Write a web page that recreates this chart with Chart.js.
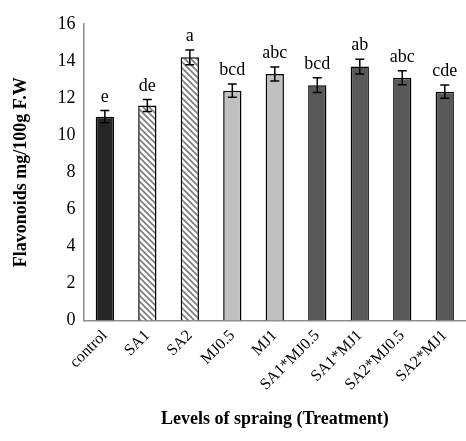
<!DOCTYPE html>
<html>
<head>
<meta charset="utf-8">
<script src="https://cdn.jsdelivr.net/npm/chart.js@4.4.1/dist/chart.umd.min.js"></script>
<style>
  body{margin:0;background:#fff;}
  #wrap{width:466px;height:441px;}
</style>
</head>
<body>
<div id="wrap"><canvas id="flavonoids-chart" width="466" height="441"></canvas></div>
<script>
const treatments = ["control","SA1","SA2","MJ0.5","MJ1","SA1*MJ0.5","SA1*MJ1","SA2*MJ0.5","SA2*MJ1"];
const flavonoids = [11.0, 11.6, 14.2, 12.4, 13.3, 12.7, 13.7, 13.1, 12.35];
const errors = [0.33, 0.32, 0.4, 0.36, 0.38, 0.4, 0.4, 0.38, 0.36];
const letters = ["e","de","a","bcd","abc","bcd","ab","abc","cde"];
const yTicks = [0,2,4,6,8,10,12,14,16];

//hatch pattern for the SA bars
const makeHatch = () =>{
    const c = document.createElement("canvas");
    c.width = 6; c.height = 6;
    const g = c.getContext("2d");
    g.fillStyle = "#ffffff";
    g.fillRect(0,0,6,6);
    g.strokeStyle = "#7a7a7a";
    g.lineWidth = 1.6;
    g.beginPath();
    g.moveTo(-1,-1); g.lineTo(7,7);
    g.moveTo(-1,5); g.lineTo(1,7);
    g.moveTo(5,-1); g.lineTo(7,1);
    g.stroke();
    return g.createPattern(c,"repeat");
}
const hatch = makeHatch();
const barColors = ["#262626", hatch, hatch, "#c0c0c0", "#c0c0c0", "#595959", "#595959", "#595959", "#595959"];

//error bars and letters drawn on top of the bars
const errorBarPlugin = {
    id: "errorBars",
    afterDatasetsDraw(chart){
        const ctx = chart.ctx;
        const meta = chart.getDatasetMeta(0);
        const y = chart.scales.y;
        ctx.save();
        ctx.strokeStyle = "#000";
        ctx.lineWidth = 1.5;
        ctx.fillStyle = "#000";
        ctx.font = "18px 'Liberation Serif', 'Times New Roman', serif";
        ctx.textAlign = "center";
        ctx.textBaseline = "alphabetic";
        meta.data.forEach((bar, i) =>{
            const x = bar.x;
            const top = y.getPixelForValue(flavonoids[i] + errors[i]);
            const bot = y.getPixelForValue(flavonoids[i] - errors[i]);
            ctx.beginPath();
            ctx.moveTo(x, top); ctx.lineTo(x, bot);
            ctx.moveTo(x-4.5, top); ctx.lineTo(x+4.5, top);
            ctx.moveTo(x-4.5, bot); ctx.lineTo(x+4.5, bot);
            ctx.stroke();
            ctx.fillText(letters[i], x, top - 9);
        })
        ctx.restore();
    }
}

new Chart("flavonoids-chart",{
    type: "bar",
    data:{
        labels: treatments,
        datasets:[{
            data: flavonoids,
            backgroundColor: barColors,
            borderColor: "#000",
            borderWidth: 1.5,
            barPercentage: 0.43,
            categoryPercentage: 1
        }]
    },
    options:{
        responsive: false,
        animation: false,
        layout:{padding:{top:24, right:-4, left:7, bottom:7}},
        plugins:{
            legend:{display:false},
            tooltip:{enabled:false}
        },
        scales:{
            x:{
                grid:{display:false, drawTicks:false},
                border:{color:"#8c8c8c", width:1.5},
                ticks:{
                    color:"#000",
                    minRotation:45, maxRotation:45,
                    padding:6,
                    font:{family:"'Liberation Serif', serif", size:16}
                },
                title:{
                    display:true,
                    text:"Levels of spraing (Treatment)",
                    color:"#000",
                    padding:{top:8},
                    font:{family:"'Liberation Serif', serif", size:18, weight:"bold"}
                }
            },
            y:{
                min:0, max:16,
                afterBuildTicks: axis =>{ axis.ticks = yTicks.map(v => ({value:v})); },
                grid:{display:false, drawOnChartArea:false, drawTicks:true, tickLength:5, color:"#8c8c8c"},
                border:{color:"#8c8c8c", width:1.5},
                ticks:{
                    color:"#000",
                    padding:3,
                    font:{family:"'Liberation Serif', serif", size:18}
                },
                title:{
                    display:true,
                    text:"Flavonoids mg/100g F.W",
                    color:"#000",
                    padding:{bottom:22},
                    font:{family:"'Liberation Serif', serif", size:18, weight:"bold"}
                }
            }
        }
    },
    plugins:[errorBarPlugin]
});
</script>
</body>
</html>
